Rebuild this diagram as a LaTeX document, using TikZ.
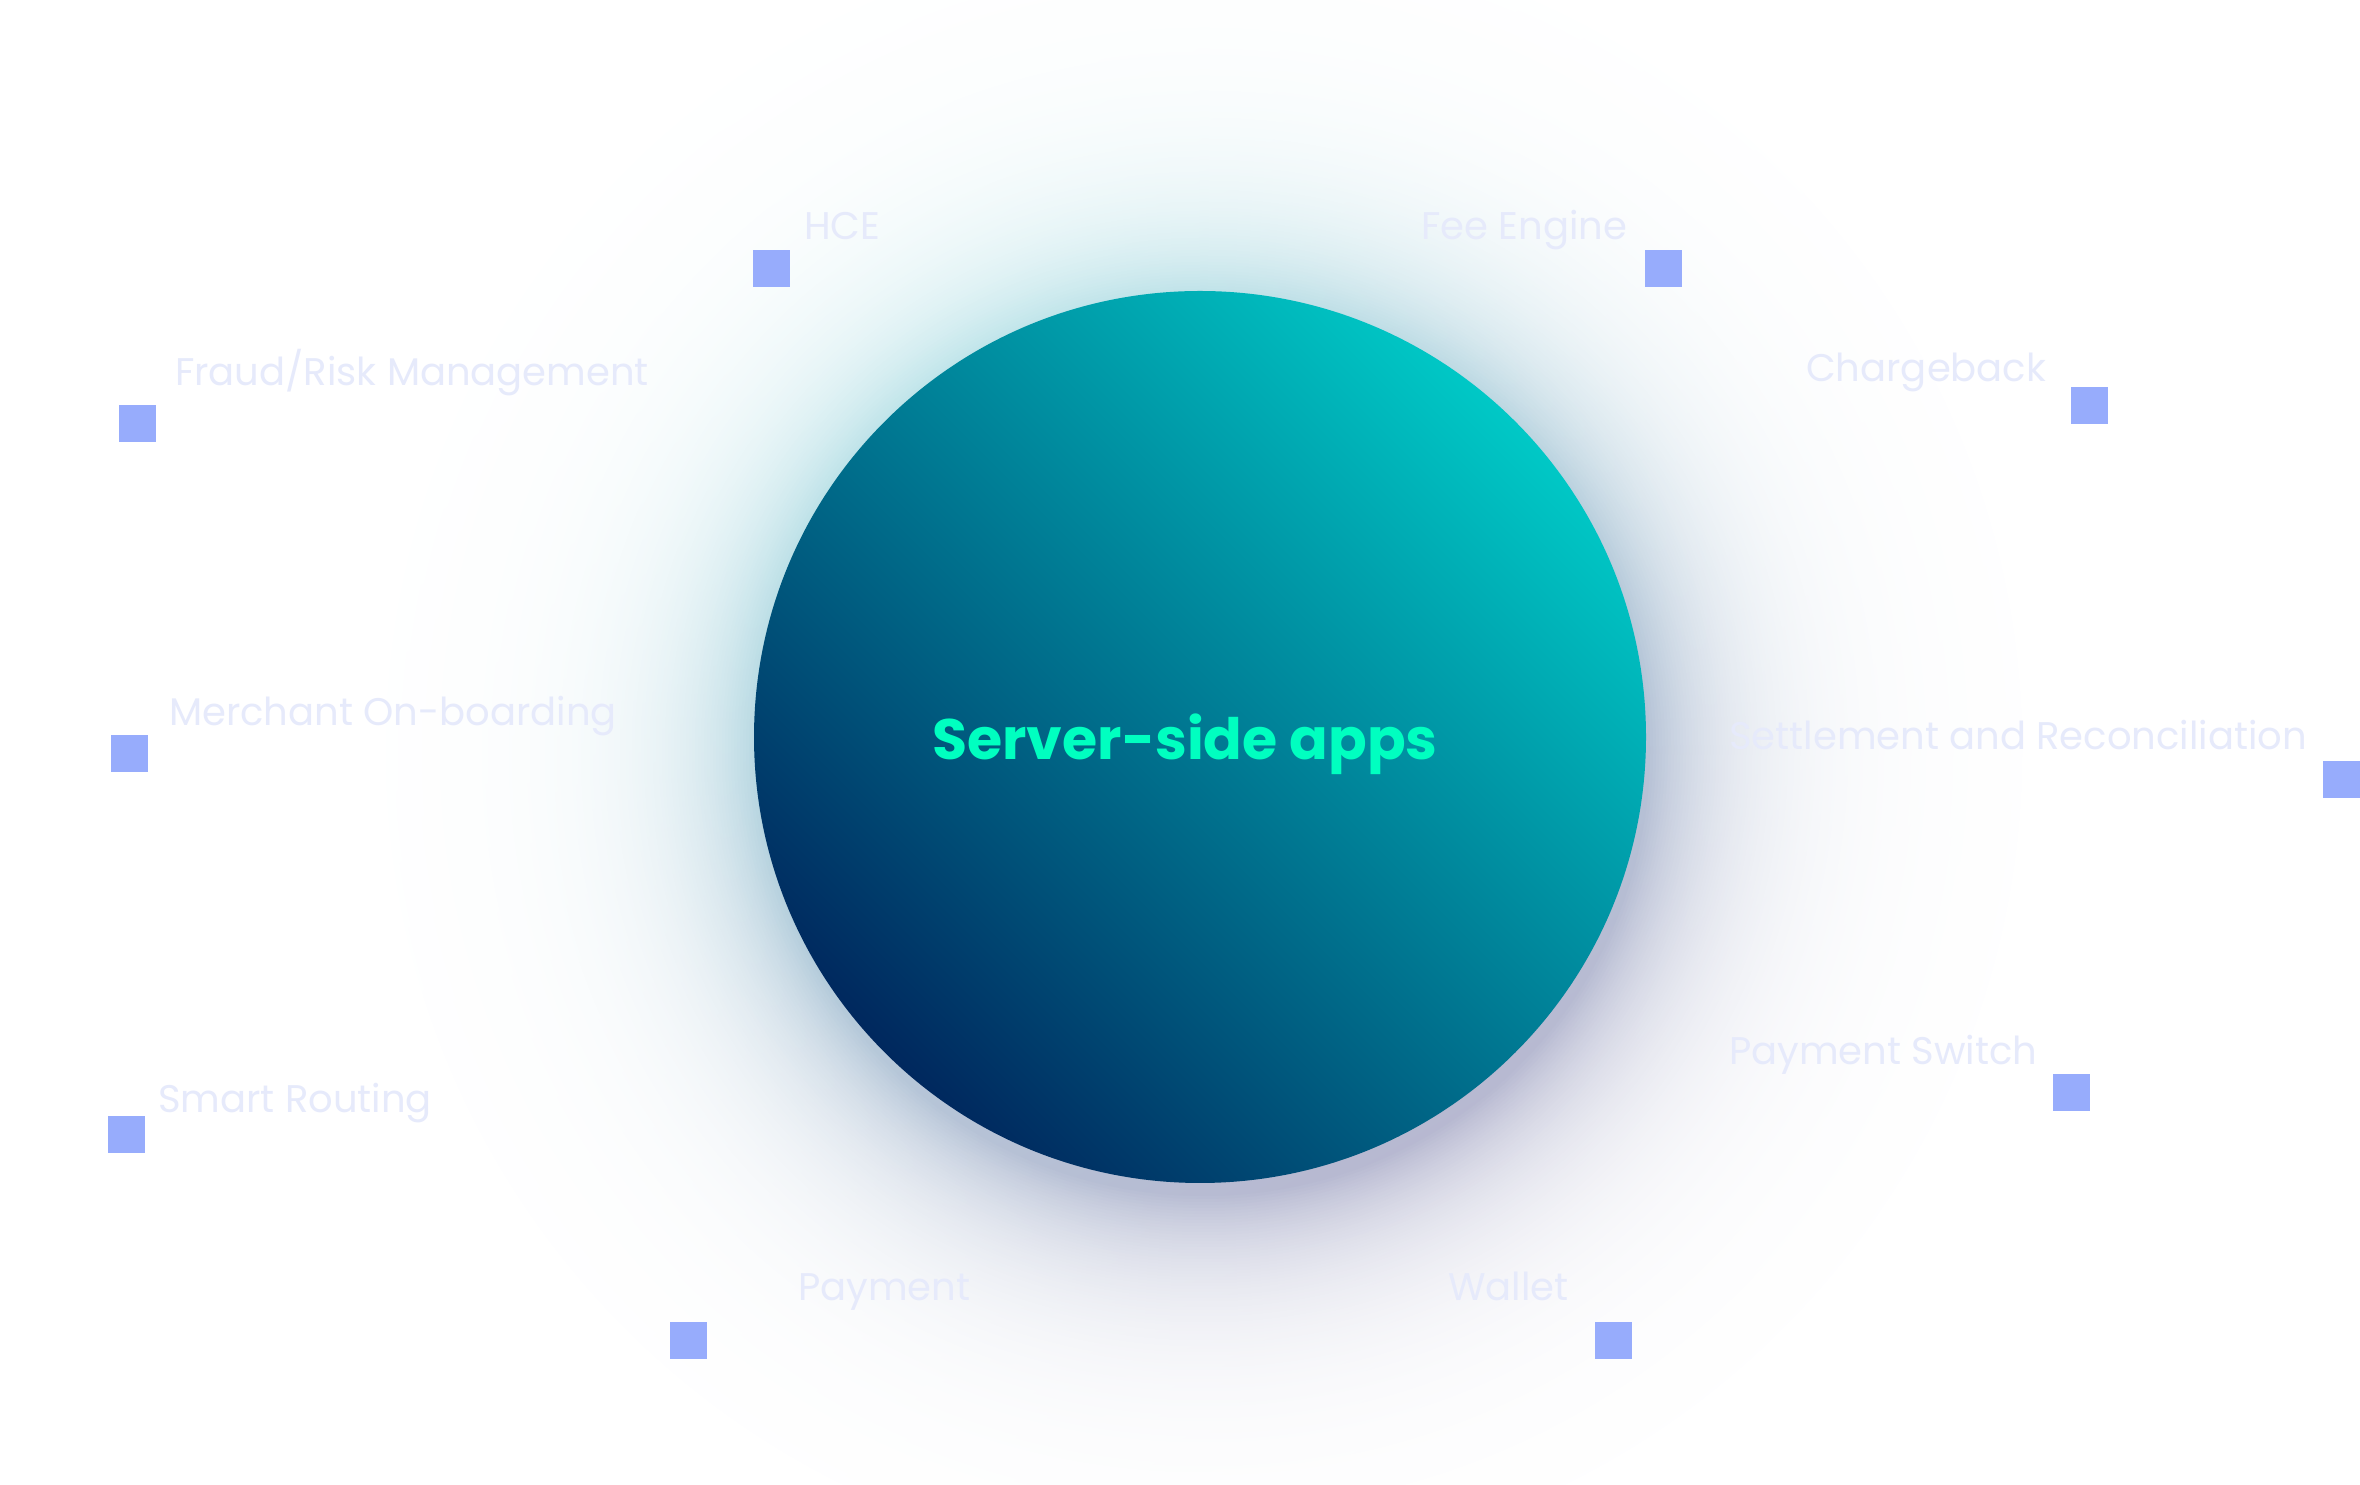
\documentclass[tikz,border=0pt]{standalone}
\usepackage{fontspec}
\setmainfont{Poppins}
\definecolor{sq}{RGB}{151,172,252}
\definecolor{lbl}{RGB}{230,234,251}
\definecolor{navy}{RGB}{0,40,94}
\definecolor{tealtop}{RGB}{0,200,198}
\definecolor{ctext}{RGB}{0,255,192}
\definecolor{halocyan}{RGB}{156,214,222}
\definecolor{halogray}{RGB}{160,162,194}
\tikzset{
  sqbox/.style={fill=sq, minimum size=37pt, inner sep=0pt, draw=none},
  lab/.style={text=lbl, anchor=base west, inner sep=0pt, font=\fontsize{38.5}{42}\selectfont},
}
\begin{document}
\begin{tikzpicture}[x=1pt,y=1pt]
\useasboundingbox (0,0) rectangle (2360,1485);
\fill[white] (0,0) rectangle (2360,1485);
% halo: opaque discs from outside in, colour fading towards white
\foreach \d in {372,369,...,0}{
  \pgfmathsetmacro\p{76*exp(-\d/82)}
  \shade[top color=halocyan!\p!white, bottom color=halogray!\p!white, shading angle=30] (1204,735) circle ({446+\d});
}
% core
\node[circle, minimum size=892pt, inner sep=0pt, top color=tealtop, bottom color=navy, shading angle=-45] (core) at (1200,748) {};
\node[text=ctext, font=\fontsize{57}{62}\selectfont\bfseries, inner sep=0pt] (title) at (1185,741) {Server-side apps};
% squares
\node[sqbox] (sqHCE) at (771,1216) {};
\node[sqbox] (sqFee) at (1663,1216) {};
\node[sqbox] (sqFraud) at (137,1061) {};
\node[sqbox] (sqCharge) at (2089,1079) {};
\node[sqbox] (sqMerch) at (129,731) {};
\node[sqbox] (sqSettle) at (2341,705) {};
\node[sqbox] (sqSwitch) at (2071,392) {};
\node[sqbox] (sqRoute) at (126,350) {};
\node[sqbox] (sqPay) at (688,144) {};
\node[sqbox] (sqWallet) at (1613,144) {};
% labels
\node[lab] (tHCE) at (804,1245) {HCE};
\node[lab] (tFee) at (1421,1245) {Fee Engine};
\node[lab] (tFraud) at (175,1099) {Fraud/Risk Management};
\node[lab] (tCharge) at (1806,1103) {Chargeback};
\node[lab] (tMerch) at (169,759) {Merchant On-boarding};
\node[lab] (tSettle) at (1729,735) {Settlement and Reconciliation};
\node[lab] (tSwitch) at (1729,420) {Payment Switch};
\node[lab] (tRoute) at (158,372) {Smart Routing};
\node[lab] (tPay) at (798,184) {Payment};
\node[lab] (tWallet) at (1448,184) {Wallet};
\end{tikzpicture}
\end{document}
